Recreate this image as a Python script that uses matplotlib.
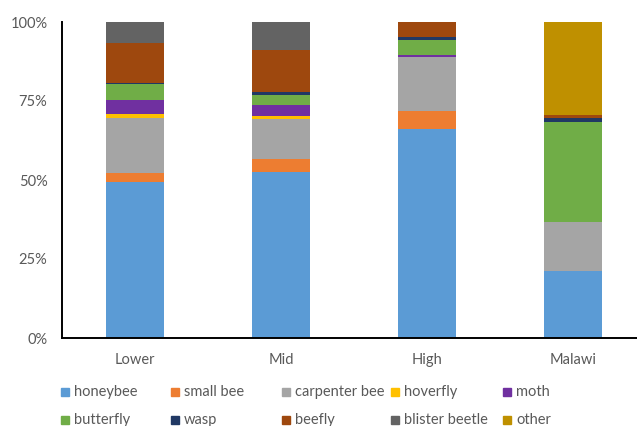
import matplotlib
matplotlib.use("Agg")
import matplotlib.pyplot as plt
from matplotlib.patches import Rectangle
import numpy as np

plt.rcParams['font.family'] = ['Lato', 'DejaVu Sans']

# Share of visits (%) by visitor group at each site
sites = ["Lower", "Mid", "High", "Malawi"]
groups = ["honeybee", "small bee", "carpenter bee", "hoverfly", "moth",
          "butterfly", "wasp", "beefly", "blister beetle", "other"]
honeybee = [49.3, 52.5, 66.1, 21.2]
small_bee = [2.8, 4.0, 5.8, 0.0]
carpenter_bee = [17.6, 12.8, 16.9, 15.6]
hoverfly = [1.2, 0.9, 0.0, 0.0]
moth = [4.4, 3.5, 0.9, 0.0]
butterfly = [5.0, 3.1, 4.6, 31.5]
wasp = [0.3, 1.0, 1.0, 1.2]
beefly = [12.9, 13.2, 4.7, 1.1]
blister_beetle = [6.5, 9.0, 0.0, 0.0]
other = [0.0, 0.0, 0.0, 29.4]
y_ticks = [0, 25, 50, 75, 100]
y_tick_labels = ["0%", "25%", "50%", "75%", "100%"]

series = [honeybee, small_bee, carpenter_bee, hoverfly, moth,
          butterfly, wasp, beefly, blister_beetle, other]
colors = ["#5B9BD5", "#ED7D31", "#A5A5A5", "#FFC000", "#7030A0",
          "#70AD47", "#203864", "#9E480E", "#636363", "#BF9000"]

W, H = 637, 426
fig = plt.figure(figsize=(W / 100, H / 100), dpi=100)
ax = fig.add_axes([62 / W, 88 / H, (W - 62) / W, (338 - 22) / H])

x = np.arange(len(sites))
bottom = np.zeros(len(sites))
for vals, c in zip(series, colors):
    vals = np.array(vals, dtype=float)
    ax.bar(x, vals, width=0.4, bottom=bottom, color=c, linewidth=0)
    bottom += vals

ax.set_xlim(-0.5, 3.44)
ax.set_ylim(0, 100)
ax.set_yticks(y_ticks)
ax.set_yticklabels(y_tick_labels)
ax.set_xticks(x)
ax.set_xticklabels(sites)
ax.tick_params(axis='both', length=0, labelsize=10.5, colors="#595959")
ax.tick_params(axis='y', pad=10.5)
ax.tick_params(axis='x', pad=11)
for s in ["top", "right"]:
    ax.spines[s].set_visible(False)
for s in ["left", "bottom"]:
    ax.spines[s].set_color("#000000")
    ax.spines[s].set_linewidth(1.4)

# Legend laid out on an even grid, five entries per row
col_x = [61, 171, 282, 391, 503]
row_y = [392, 420]
for i, (name, c) in enumerate(zip(groups, colors)):
    r, k = divmod(i, 5)
    px, py = col_x[k], row_y[r]
    fig.patches.append(Rectangle((px / W, (H - py - 4) / H), 8 / W, 8 / H,
                                 transform=fig.transFigure, color=c))
    fig.text((px + 13) / W, (H - py) / H, name, fontsize=10.5,
             color="#595959", va="center", ha="left")

fig.savefig("out.png", dpi=100)
